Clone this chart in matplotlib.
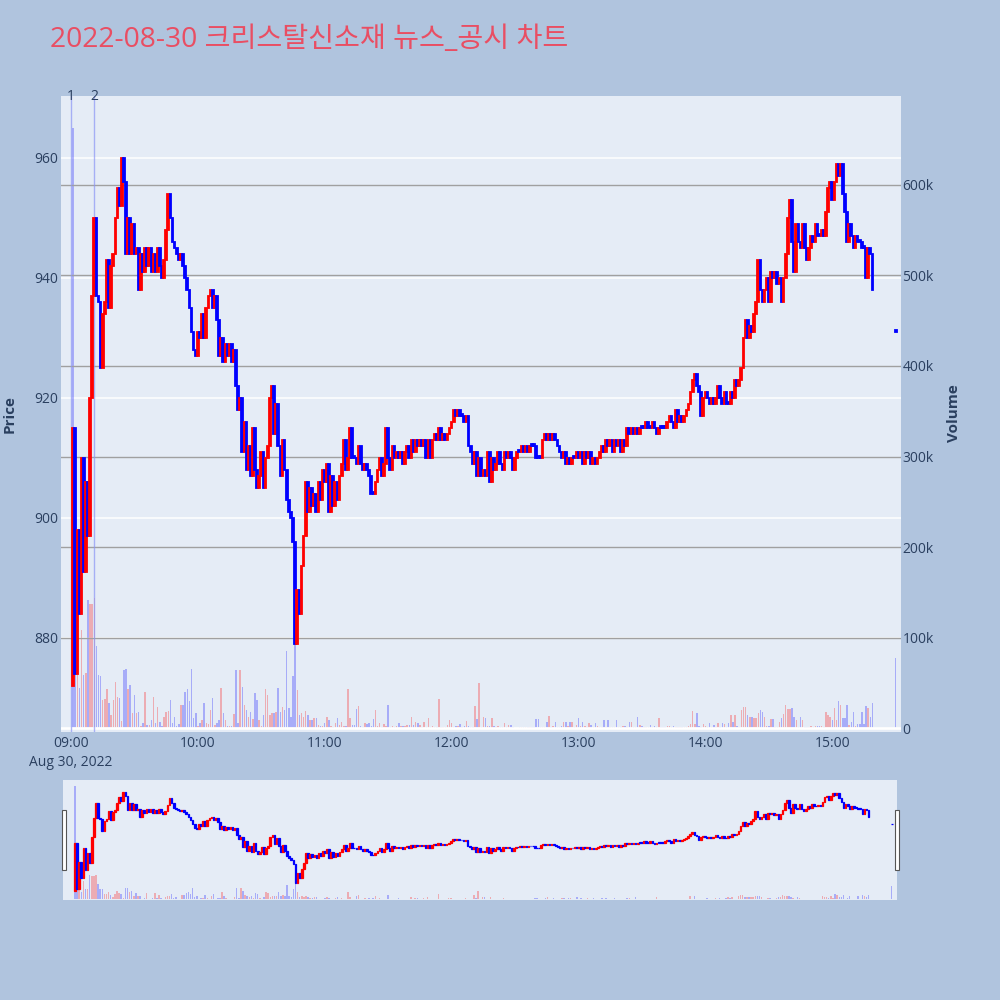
import numpy as np
import matplotlib.pyplot as plt
from matplotlib.patches import Rectangle

plt.rcParams['font.family'] = ['Open Sans', 'Noto Sans CJK KR', 'DejaVu Sans']

title = '2022-08-30 크리스탈신소재 뉴스_공시 차트'

# 1-minute candles 09:01 .. 15:19, close price (open = previous close)
first_open = 872
closes = [
    915, 874, 898, 884, 910, 891, 906, 897, 920, 937,   # 09:01
    950, 937, 936, 925, 934, 936, 943, 935, 942, 944,
    950, 955, 952, 960, 956, 944, 950, 944, 949, 944,
    945, 938, 944, 941, 945, 942, 945, 941, 944, 941,
    945, 942, 940, 943, 948, 954, 950, 946, 945, 944,
    943, 944, 942, 940, 938, 935, 931, 928, 927, 931,
    930, 934, 930, 935, 937, 938, 935, 937, 933, 927,   # 10:01
    930, 926, 929, 927, 929, 926, 928, 922, 918, 920,
    911, 916, 908, 912, 907, 915, 908, 905, 907, 911,
    905, 910, 912, 920, 922, 914, 919, 912, 907, 913,
    908, 903, 901, 900, 896, 879, 888, 884, 892, 897,
    906, 901, 905, 902, 904, 901, 906, 903, 908, 906,
    909, 901, 907, 902, 906, 903, 907, 909, 913, 908,   # 11:01
    910, 915, 910, 910, 909, 912, 909, 908, 909, 908,
    907, 904, 904, 906, 908, 910, 907, 909, 915, 910,
    908, 912, 910, 911, 910, 911, 909, 911, 912, 910,
    913, 911, 913, 912, 913, 912, 913, 910, 913, 910,
    913, 914, 913, 915, 913, 914, 913, 914, 915, 916,
    918, 917, 918, 917, 917, 916, 917, 912, 911, 909,   # 12:01
    911, 907, 910, 907, 908, 907, 911, 906, 910, 908,
    909, 911, 909, 908, 911, 910, 911, 910, 908, 910,
    911, 911, 912, 911, 912, 911, 912, 912, 912, 910,
    910, 910, 913, 914, 913, 914, 913, 914, 913, 912,
    911, 910, 911, 909, 910, 909, 910, 910, 911, 910,
    911, 909, 911, 910, 911, 909, 910, 909, 910, 911,   # 13:01
    912, 911, 913, 912, 913, 911, 913, 912, 913, 911,
    913, 912, 915, 914, 915, 914, 915, 914, 915, 915,
    915, 916, 915, 915, 916, 915, 914, 915, 915, 915,
    915, 916, 917, 916, 915, 918, 916, 917, 916, 917,
    918, 919, 921, 923, 924, 922, 921, 917, 920, 921,
    920, 919, 920, 919, 920, 922, 920, 919, 921, 919,   # 14:01
    919, 921, 920, 923, 922, 923, 925, 930, 933, 930,
    932, 931, 934, 936, 943, 938, 936, 938, 940, 936,
    941, 940, 941, 939, 940, 936, 940, 944, 950, 953,
    946, 941, 949, 946, 945, 949, 945, 943, 945, 947,
    946, 949, 947, 947, 948, 947, 951, 955, 956, 953,
    956, 959, 957, 959, 954, 951, 946, 949, 947, 945,   # 15:01
    947, 946, 946, 945, 945, 940, 945, 944, 938,
]

# traded volume per minute, thousand shares
volumes_k = [
    663, 61, 87, 45, 109, 59, 61, 142, 137, 137,
    144, 91, 59, 58, 31, 32, 43, 28, 15, 31,
    51, 35, 33, 8, 64, 65, 43, 48, 17, 37,
    17, 18, 2, 6, 40, 4, 4, 9, 35, 6,
    24, 7, 3, 13, 18, 19, 31, 6, 12, 3,
    5, 26, 26, 40, 43, 30, 65, 11, 17, 3,
    6, 9, 28, 6, 5, 20, 33, 4, 6, 9,
    44, 17, 9, 2, 3, 2, 16, 64, 6, 64,
    46, 26, 20, 13, 18, 10, 39, 31, 9, 3,
    15, 43, 37, 15, 17, 17, 18, 44, 18, 24,
    20, 85, 22, 13, 58, 100, 42, 15, 17, 12,
    19, 15, 9, 9, 11, 11, 4, 2, 3, 6,
    12, 9, 2, 1, 6, 11, 4, 7, 2, 3,
    43, 11, 4, 4, 21, 25, 3, 1, 6, 5,
    6, 2, 10, 20, 3, 6, 1, 5, 2, 26,
    1, 3, 1, 2, 6, 3, 3, 2, 4, 4,
    13, 4, 7, 6, 4, 1, 7, 1, 11, 1,
    2, 1, 1, 32, 1, 1, 1, 4, 9, 6,
    1, 3, 2, 5, 1, 3, 8, 3, 1, 1,
    25, 10, 50, 1, 13, 11, 3, 3, 11, 3,
    1, 2, 1, 1, 6, 1, 4, 4, 1, 0,
    0, 1, 1, 1, 1, 1, 1, 1, 1, 10,
    10, 1, 1, 1, 7, 14, 1, 3, 7, 1,
    1, 3, 7, 7, 3, 7, 7, 1, 4, 11,
    3, 7, 3, 1, 6, 4, 1, 6, 3, 1,
    1, 9, 1, 9, 1, 1, 1, 9, 1, 1,
    3, 3, 1, 7, 7, 1, 1, 12, 4, 2,
    1, 1, 1, 4, 1, 3, 1, 11, 1, 1,
    1, 3, 3, 1, 3, 1, 1, 1, 1, 1,
    1, 3, 5, 19, 5, 17, 3, 1, 5, 3,
    1, 6, 1, 4, 1, 6, 1, 6, 5, 1,
    6, 15, 7, 15, 2, 1, 20, 24, 23, 15,
    13, 13, 11, 11, 17, 20, 18, 13, 3, 3,
    10, 10, 1, 1, 7, 11, 16, 26, 21, 21,
    22, 12, 9, 1, 12, 9, 1, 1, 1, 3,
    1, 2, 2, 2, 2, 1, 18, 15, 13, 9,
    22, 9, 30, 26, 11, 11, 26, 4, 7, 18,
    2, 5, 5, 18, 5, 25, 22, 13, 28,
]

# closing auction 15:30
auction_minute = 390
auction_price = 931
auction_volume_k = 78

news_minutes = [0, 11]
news_labels = ['1', '2']

price_ticks = [880, 900, 920, 940, 960]
volume_ticks_k = [0, 100, 200, 300, 400, 500, 600]
time_ticks = [0, 60, 120, 180, 240, 300, 360]
time_labels = ['09:00', '10:00', '11:00', '12:00', '13:00', '14:00', '15:00']

# ---- derived arrays
minutes = np.append(np.arange(1, len(closes) + 1), auction_minute)
close_arr = np.append(closes, auction_price).astype(float)
open_arr = np.append(np.r_[first_open, closes[:-1]], auction_price).astype(float)
vol = np.append(volumes_k, auction_volume_k) * 1000.0
up = close_arr > open_arr
vol_up = np.diff(close_arr, prepend=close_arr[0]) > 0

BG = '#E5ECF6'
FONT_C = '#2a3f5f'
XLIM = (-4.73, 392.5)
PLIM = (864.3, 970.3)
VLIM = (-3750, 697900)


def draw_panel(rect, lw, main=True):
    ax = fig.add_axes(rect, facecolor=BG)
    ax.set_xlim(*XLIM)
    ax.set_ylim(*PLIM)
    for s in ax.spines.values():
        s.set_visible(False)

    axv = ax.twinx()
    axv.set_ylim(*VLIM)
    for s in axv.spines.values():
        s.set_visible(False)
    vcols = ['#FF0000' if u else '#0000FF' for u in vol_up]
    axv.bar(minutes, vol, width=0.7, color=vcols, alpha=0.27, linewidth=0)

    axc = fig.add_axes(rect, sharex=ax, sharey=ax)
    axc.patch.set_visible(False)
    axc.axis('off')
    lo = np.minimum(open_arr, close_arr)
    h = np.maximum(np.abs(close_arr - open_arr), 0.3)
    ccols = ['#FF0000' if u else '#0000FF' for u in up]
    axc.bar(minutes, h, bottom=lo, width=0.8, color=ccols, edgecolor=ccols, linewidth=lw)

    if main:
        ax.set_yticks(price_ticks)
        ax.grid(axis='y', color='white', linewidth=1.1)
        ax.set_axisbelow(True)
        ax.set_xticks(time_ticks, time_labels)
        ax.tick_params(length=0, labelsize=10, labelcolor=FONT_C)
        ax.tick_params(axis='y', pad=2)
        ax.tick_params(axis='x', pad=3)

        axv.set_yticks([v * 1000 for v in volume_ticks_k])
        axv.set_yticklabels(['0' if v == 0 else f'{v}k' for v in volume_ticks_k])
        axv.tick_params(length=0, labelsize=10, labelcolor=FONT_C, pad=1)
        axv.grid(axis='y', color='#a0a0a0', linewidth=1.0)
        axv.axhline(0, color='white', linewidth=2, zorder=3)

        for m, lab in zip(news_minutes, news_labels):
            axc.axvline(m, color='#8c96f5', alpha=0.7, linewidth=1, zorder=0.5)
            axc.text(m, 1.0, lab, transform=axc.get_xaxis_transform(),
                     ha='center', va='center', fontsize=10, color=FONT_C, clip_on=False)
    else:
        ax.set_xticks([])
        ax.set_yticks([])
        axv.set_yticks([])
    return ax


fig = plt.figure(figsize=(10, 10), dpi=100, facecolor='#B0C4DE')

draw_panel([0.061, 0.2683, 0.84, 0.6357], lw=1.3, main=True)
draw_panel([0.063, 0.10, 0.834, 0.12], lw=0.9, main=False)

# range slider grab handles
for hx in (0.062, 0.895):
    fig.patches.append(Rectangle((hx, 0.13), 0.004, 0.06, transform=fig.transFigure,
                                 facecolor='white', edgecolor='#555555', linewidth=0.8))

fig.text(0.05, 0.96, title, fontsize=20.3, color='#E94E63', ha='left', va='center')
fig.text(0.0095, 0.586, 'Price', rotation=90, ha='center', va='center',
         fontsize=11, fontweight='bold', color=FONT_C)
fig.text(0.954, 0.587, 'Volume', rotation=90, ha='center', va='center',
         fontsize=11, fontweight='bold', color=FONT_C)
fig.text(0.071, 0.238, 'Aug 30, 2022', ha='center', va='center', fontsize=10, color=FONT_C)

fig.savefig('out.png', dpi=100, facecolor=fig.get_facecolor())
